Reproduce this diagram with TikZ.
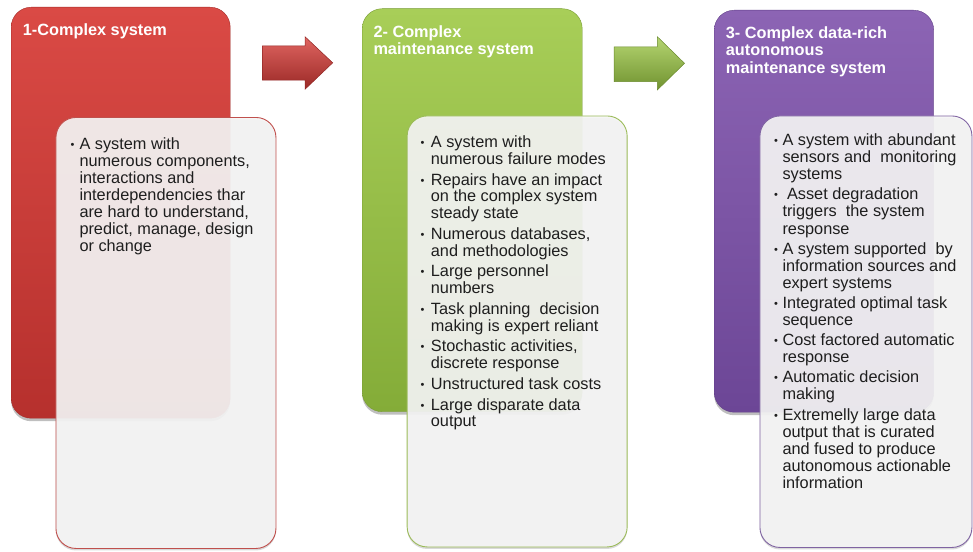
\documentclass[tikz,border=0pt]{standalone}
\usepackage{fontspec}
\setmainfont{Liberation Sans}
\usetikzlibrary{shadows}
\definecolor{rtop}{RGB}{218,74,69}
\definecolor{rbot}{RGB}{182,48,45}
\definecolor{rline}{RGB}{192,80,77}
\definecolor{gtop}{RGB}{168,206,88}
\definecolor{gbot}{RGB}{132,172,56}
\definecolor{gline}{RGB}{155,187,89}
\definecolor{ptop}{RGB}{140,100,180}
\definecolor{pbot}{RGB}{108,70,150}
\definecolor{pline}{RGB}{128,100,162}
\definecolor{wfill}{RGB}{245,245,245}
\definecolor{bodytxt}{RGB}{30,30,30}
\newlength\bulgap
\newcommand\bul{\llap{\raisebox{1pt}{\fontsize{11}{11}\selectfont •}\hspace{\bulgap}}}
\tikzset{
  cbox/.style={rounded corners=20pt, anchor=north west, inner sep=0pt,
    drop shadow={shadow xshift=0pt, shadow yshift=-3pt, opacity=0.25, fill=black}},
  wbox/.style={rounded corners=20pt, anchor=north west, inner sep=0pt,
    fill=wfill, fill opacity=0.92, line width=0.9pt,
    drop shadow={shadow xshift=0pt, shadow yshift=-2pt, opacity=0.15, fill=black}},
  ttl/.style={anchor=base west, inner sep=0pt, text=white,
    font=\fontsize{16.3}{17.6}\selectfont\bfseries},
  body/.style={anchor=base west, inner sep=0pt, text=bodytxt,
    font=\fontsize{16.3}{17.1}\selectfont},
  arr/.style={line width=0.5pt, line join=miter}
}
\begin{document}
\begin{tikzpicture}[x=1pt,y=-1pt]
\useasboundingbox (0,0) rectangle (973,551);
% ---------- column 1 ----------
\node[cbox, top color=rtop, bottom color=rbot, draw=rbot!90!black,
  minimum width=219pt, minimum height=411pt] (c1) at (11,7) {};
\node[ttl] (t1) at (22.7,35.7) {\begin{tabular}[t]{@{}l@{}}1-Complex system\end{tabular}};
\node[wbox, draw=rline, minimum width=220pt, minimum height=431pt] (w1) at (55.5,117) {};
\node[body] (b1) at (79.3,149) {\setlength\bulgap{5pt}\begin{tabular}[t]{@{}l@{}}
\bul A system with\\
numerous components,\\
interactions and\\
interdependencies thar\\
are hard to understand,\\
predict, manage, design\\
or change
\end{tabular}};
% ---------- arrow 1 ----------
\path[arr, top color=rtop!85!white, bottom color=rbot!85!black, draw=rbot!80!black]
  (262.3,46) -- (305,46) -- (305,36.7) -- (332.7,62.8) -- (305,89.3) -- (305,80) -- (262.3,80) -- cycle;
% ---------- column 2 ----------
\node[cbox, top color=gtop, bottom color=gbot, draw=gbot!90!black,
  minimum width=220pt, minimum height=403pt] (c2) at (362,8.5) {};
\node[ttl] (t2) at (373.3,37.3) {\begin{tabular}[t]{@{}l@{}}2- Complex\\maintenance system\end{tabular}};
\node[wbox, draw=gline, minimum width=220pt, minimum height=431pt] (w2) at (406.7,115.5) {};
\node[body, font=\fontsize{16.3}{16.5}\selectfont] (b2) at (430.7,147.5) {\setlength\bulgap{6.5pt}\begin{tabular}[t]{@{}l@{}}
\bul A system with\\
numerous failure modes\\[4pt]
\bul Repairs have an impact\\
on the complex system\\
steady state\\[4pt]
\bul Numerous databases,\\
and methodologies\\[4pt]
\bul Large personnel\\
numbers\\[4pt]
\bul Task planning\ \ decision\\
making is expert reliant\\[4pt]
\bul Stochastic activities,\\
discrete response\\[4pt]
\bul Unstructured task costs\\[4pt]
\bul Large disparate data\\
output
\end{tabular}};
% ---------- arrow 2 ----------
\path[arr, top color=gtop!85!white, bottom color=gbot!85!black, draw=gbot!80!black]
  (614,47) -- (657.3,47) -- (657.3,36.7) -- (684.5,63.3) -- (657.3,90) -- (657.3,81.5) -- (614,81.5) -- cycle;
% ---------- column 3 ----------
\node[cbox, top color=ptop, bottom color=pbot, draw=pbot!90!black,
  minimum width=219.5pt, minimum height=402pt] (c3) at (714,10) {};
\node[ttl] (t3) at (725.7,38.3) {\begin{tabular}[t]{@{}l@{}}3- Complex data-rich\\autonomous\\maintenance system\end{tabular}};
\node[wbox, draw=pline, minimum width=212pt, minimum height=431.5pt] (w3) at (759.5,115.5) {};
\node[body] (b3) at (782.3,145.5) {\setlength\bulgap{4.5pt}\begin{tabular}[t]{@{}l@{}}
\bul A system with abundant\\
sensors and\ \ monitoring\\
systems\\[3pt]
\bul\ Asset degradation\\
triggers\ \ the system\\
response\\[3pt]
\bul A system supported\ \ by\\
information sources and\\
expert systems\\[3pt]
\bul Integrated optimal task\\
sequence\\[3pt]
\bul Cost factored automatic\\
response\\[3pt]
\bul Automatic decision\\
making\\[3pt]
\bul Extremelly large data\\
output that is curated\\
and fused to produce\\
autonomous actionable\\
information
\end{tabular}};
\end{tikzpicture}
\end{document}
